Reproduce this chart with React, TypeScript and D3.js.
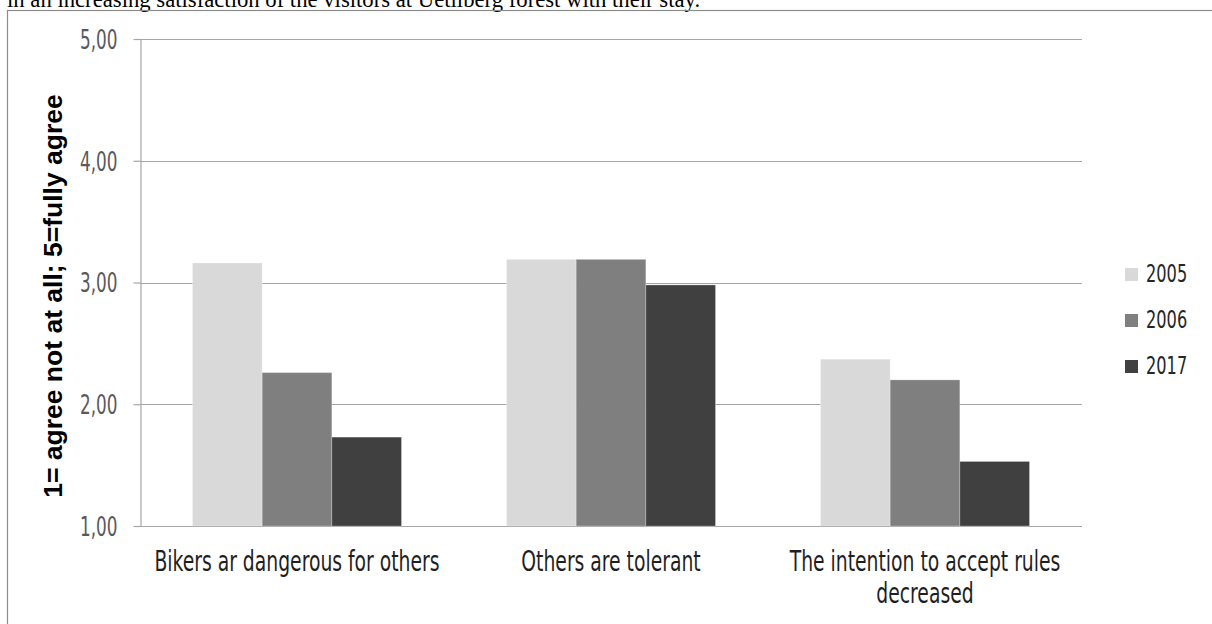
import React, { useEffect, useRef } from "react";
import { scaleLinear, scaleBand, axisLeft, select, formatLocale } from "d3";

// chart values
const categories = [
  "Bikers ar dangerous for others",
  "Others are tolerant",
  "The intention to accept rules decreased",
];
const series = ["2005", "2006", "2017"];
const values2005 = [3.16, 3.19, 2.37];
const values2006 = [2.26, 3.19, 2.2];
const values2017 = [1.73, 2.98, 1.53];
const yTicks = [1, 2, 3, 4, 5];
const yTitle = "1= agree not at all; 5=fully agree";
const topLine =
  "in an increasing satisfaction of the visitors at Uetliberg forest with their stay.";

const colors = ["#d9d9d9", "#7f7f7f", "#404040"];
const gridColor = "#a6a6a6";
const narrowFont = "'DejaVu Sans Condensed', 'DejaVu Sans', sans-serif";
const squeeze = 0.72;

const fmt = formatLocale({
  decimal: ",",
  thousands: ".",
  grouping: [3],
  currency: ["", ""],
}).format(".2f");

function wrap(label: string, maxChars: number) {
  const words = label.split(" ");
  const lines: string[] = [];
  let cur = "";
  words.forEach((w) => {
    const next = cur ? cur + " " + w : w;
    if (next.length > maxChars && cur) {
      lines.push(cur);
      cur = w;
    } else {
      cur = next;
    }
  });
  if (cur) lines.push(cur);
  return lines;
}

function YAxis({ y, left }: { y: any; left: number }) {
  const ref = useRef<SVGGElement>(null);
  useEffect(() => {
    const g = select(ref.current);
    g.call(
      axisLeft(y)
        .tickValues(yTicks)
        .tickSize(7)
        .tickSizeOuter(0)
        .tickFormat((d: any) => fmt(d))
    );
    g.select(".domain").attr("stroke", gridColor).attr("stroke-width", 1.2);
    g.selectAll(".tick line").attr("stroke", gridColor).attr("stroke-width", 1.2);
    g.selectAll(".tick text")
      .attr("x", -23 / squeeze)
      .attr("dy", "0.36em")
      .attr("transform", `scale(${squeeze},1)`)
      .attr("fill", "#595959")
      .attr("font-size", 26)
      .attr("font-family", narrowFont)
      .attr("font-stretch", "condensed");
  }, [y]);
  return <g ref={ref} transform={`translate(${left},0)`} />;
}

export default function App() {
  const W = 1212;
  const H = 624;
  const plot = { left: 140, right: 1082, top: 39, bottom: 526 };

  const y = scaleLinear().domain([1, 5]).range([plot.bottom, plot.top]);
  const gap = 105 / 314;
  const x = scaleBand()
    .domain(categories)
    .range([plot.left, plot.right])
    .paddingInner(gap)
    .paddingOuter(gap / 2);
  const xs = scaleBand().domain(series).range([0, x.bandwidth()]);
  const all = [values2005, values2006, values2017];

  return (
    <svg
      width={W}
      height={H}
      style={{ position: "absolute", left: 0, top: 0, background: "white" }}
    >
      <text
        x={7}
        y={7}
        style={{ fontFamily: "'Liberation Serif', 'Times New Roman', serif", fontSize: 22.7, fill: "#000" }}
      >
        {topLine}
      </text>
      <rect
        x={7.5}
        y={10.5}
        width={1230}
        height={700}
        fill="none"
        stroke="#8c8c8c"
        strokeWidth={1.2}
      />

      {yTicks.map((t) => (
        <line
          key={t}
          x1={plot.left}
          x2={plot.right}
          y1={Math.round(y(t)) + 0.5}
          y2={Math.round(y(t)) + 0.5}
          stroke={gridColor}
          strokeWidth={1.2}
        />
      ))}

      {series.map((s, si) =>
        categories.map((c, ci) => (
          <rect
            key={s + c}
            x={(x(c) as number) + (xs(s) as number)}
            y={y(all[si][ci])}
            width={xs.bandwidth()}
            height={plot.bottom - y(all[si][ci])}
            fill={colors[si]}
            stroke="#ffffff"
            strokeOpacity={0.25}
            strokeWidth={1}
          />
        ))
      )}

      <YAxis y={y} left={plot.left + 0.5} />

      {categories.map((c) => {
        const cx = (x(c) as number) + x.bandwidth() / 2;
        return wrap(c, 30).map((ln, li) => (
          <g key={c + li} transform={`translate(${cx},${571 + li * 32}) scale(${squeeze},1)`}>
            <text
              textAnchor="middle"
              style={{ fontFamily: narrowFont, fontStretch: "condensed", fontSize: 29, fill: "#1f1f1f" }}
            >
              {ln}
            </text>
          </g>
        ));
      })}

      {series.map((s, si) => (
        <g key={s} transform={`translate(1125,${268 + si * 46})`}>
          <rect width={13} height={13} fill={colors[si]} />
          <g transform={`translate(21,14) scale(${squeeze},1)`}>
            <text style={{ fontFamily: narrowFont, fontStretch: "condensed", fontSize: 25, fill: "#262626" }}>
              {s}
            </text>
          </g>
        </g>
      ))}

      <text
        transform={`translate(62,296) rotate(-90)`}
        textAnchor="middle"
        style={{ fontFamily: "'Liberation Sans', Arial, sans-serif", fontWeight: "bold", fontSize: 26.5, fill: "#000" }}
      >
        {yTitle}
      </text>
    </svg>
  );
}
